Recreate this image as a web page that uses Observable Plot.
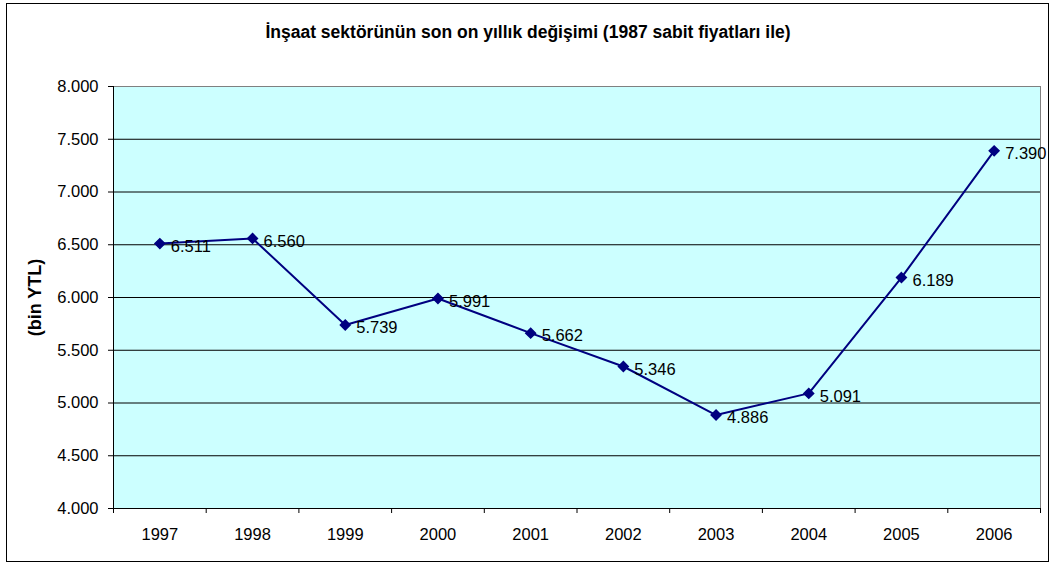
<!DOCTYPE html>
<html><head><meta charset="utf-8">
<script src="https://cdn.jsdelivr.net/npm/d3@7"></script>
<script src="https://cdn.jsdelivr.net/npm/@observablehq/plot@0.6"></script>
<style>
body{margin:0;background:#fff;}
#wrap{position:relative;width:1053px;height:565px;overflow:hidden;}
#border{position:absolute;left:6px;top:3px;width:1043px;height:559px;box-sizing:border-box;border:1px solid #000;pointer-events:none;}
</style></head><body><div id="wrap"><div id="chart"></div><div id="border"></div></div>
<script>
const years = [1997, 1998, 1999, 2000, 2001, 2002, 2003, 2004, 2005, 2006];
const values = [6511, 6560, 5739, 5991, 5662, 5346, 4886, 5091, 6189, 7390];
const yTicks = [4000, 4500, 5000, 5500, 6000, 6500, 7000, 7500, 8000];
const title = "İnşaat sektörünün son on yıllık değişimi (1987 sabit fiyatları ile)";
const yTitle = "(bin YTL)";

const fmt = d3.formatLocale({decimal: ",", thousands: ".", grouping: [3], currency: ["", " YTL"]}).format(",d");
const data = years.map((y, i) => ({year: y, value: values[i]}));
const boundaries = years.map(y => y - 0.5).concat([years[years.length - 1] + 0.5]);

const chart = Plot.plot({
  width: 1053,
  height: 565,
  marginLeft: 113,
  marginRight: 13,
  marginTop: 86,
  marginBottom: 57,
  style: {fontFamily: "'Liberation Sans', Arial, sans-serif", fontSize: "16px", color: "#000", background: "#fff"},
  x: {type: "linear", domain: [boundaries[0], boundaries[boundaries.length - 1]], axis: null},
  y: {domain: [yTicks[0], yTicks[yTicks.length - 1]], axis: null},
  marks: [
    Plot.frame({fill: "#CCFFFF", stroke: null}),
    Plot.gridY(yTicks, {stroke: "#000", strokeOpacity: 1}),
    Plot.frame({stroke: "#808080"}),
    Plot.ruleX([boundaries[0]], {stroke: "#000"}),
    Plot.ruleY([yTicks[0]], {stroke: "#000"}),
    Plot.axisY(yTicks, {tickSize: 5, tickPadding: 10, tickFormat: fmt, label: null, fontSize: 16.5}),
    Plot.axisX(boundaries, {tickSize: 5, tickFormat: () => "", label: null}),
    Plot.axisX(years, {tickSize: 0, tickPadding: 20, tickFormat: d => String(d), label: null, fontSize: 16.5}),
    Plot.line(data, {x: "year", y: "value", stroke: "#000080", strokeWidth: 2}),
    Plot.dot(data, {x: "year", y: "value", symbol: "diamond2", r: 4.4, fill: "#000080", stroke: "#000080"}),
    Plot.text(data, {x: "year", y: "value", text: d => fmt(d.value), textAnchor: "start", dx: 11, dy: 3, fontSize: 16.5, fill: "#000"}),
    Plot.text([title], {frameAnchor: "top", lineAnchor: "middle", dx: -49, dy: -54, fontWeight: "bold", fontSize: 17.5, fill: "#000"}),
    Plot.text([yTitle], {frameAnchor: "left", textAnchor: "middle", lineAnchor: "middle", rotate: -90, dx: -78, fontWeight: "bold", fontSize: 18, fill: "#000"})
  ]
});
document.getElementById("chart").append(chart);
</script>
</body></html>
